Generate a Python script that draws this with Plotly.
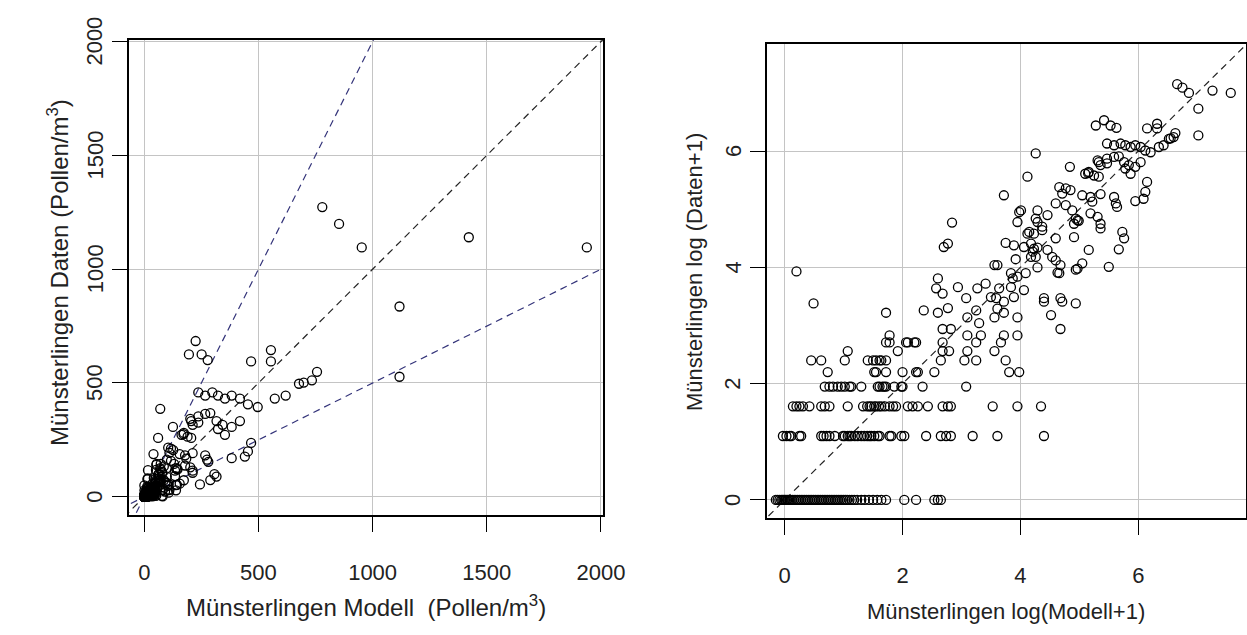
import numpy as np
import plotly.graph_objects as go

# ---- data (log(x+1) scale; the left panel shows the same pairs back-transformed) ----
# observed counts sit on discrete levels; model values for each level
daten_levels = [0.0, 1.10, 1.61, 1.95, 2.20, 2.40, 2.56, 2.71, 2.83, 2.94]

modell_at_level_0 = [-0.15, -0.12, -0.09, -0.06, -0.04, -0.02, 0.00, 0.02, 0.04, 0.06,
                     0.08, 0.10, 0.13, 0.16, 0.19, 0.22, 0.25, 0.28, 0.31, 0.34,
                     0.37, 0.40, 0.43, 0.46, 0.49, 0.52, 0.55, 0.58, 0.61, 0.64,
                     0.67, 0.70, 0.73, 0.76, 0.79, 0.82, 0.85, 0.88, 0.91, 0.94,
                     0.97, 1.00, 1.03, 1.06, 1.10, 1.14, 1.18, 1.23, 1.30, 1.36,
                     1.43, 1.50, 1.57, 1.64, 1.72, 2.03, 2.23, 2.54, 2.60, 2.65]
modell_at_level_1 = [-0.03, 0.03, 0.08, 0.11, 0.25, 0.28, 0.62, 0.66, 0.71, 0.76,
                     0.85, 0.99, 1.02, 1.07, 1.10, 1.13, 1.19, 1.24, 1.30, 1.35,
                     1.40, 1.44, 1.47, 1.52, 1.58, 1.61, 1.78, 1.81, 1.98, 2.03,
                     2.40, 2.65, 2.74, 2.82, 3.19, 3.61, 4.40]
modell_at_level_2 = [0.14, 0.20, 0.25, 0.31, 0.42, 0.62, 0.68, 0.76, 1.07, 1.33,
                     1.40, 1.44, 1.47, 1.52, 1.55, 1.60, 1.64, 1.70, 1.78, 1.84,
                     1.89, 2.09, 2.17, 2.26, 2.43, 2.68, 2.77, 2.82, 3.53, 3.95, 4.35]
modell_at_level_3 = [0.68, 0.76, 0.82, 0.90, 0.96, 1.02, 1.10, 1.13, 1.30, 1.58,
                     1.61, 1.66, 1.69, 1.72, 1.86, 1.98, 2.00, 2.34, 3.08]
modell_at_level_4 = [0.73, 1.52, 1.55, 1.72, 2.00, 2.23, 2.26, 2.54, 3.81, 3.98]
modell_at_level_5 = [0.45, 0.62, 1.02, 1.41, 1.50, 1.55, 1.61, 1.64, 1.72, 2.65,
                     3.05, 3.25, 3.75]
modell_at_level_6 = [1.07, 1.92, 2.68, 2.79, 3.10, 3.56]
modell_at_level_7 = [1.72, 1.78, 2.06, 2.09, 2.20, 2.23, 2.68, 3.25, 3.67]
modell_at_level_8 = [1.78, 3.10, 3.33, 3.72, 3.95]
modell_at_level_9 = [2.68, 2.82, 4.68]

# remaining days with larger counts
log_modell_high = [
    0.20, 0.49, 1.72, 2.36, 2.60, 2.77, 3.10, 3.25, 3.30, 3.56, 3.61, 3.72, 3.95, 4.52,
    4.40, 4.71, 4.94, 3.08, 3.59,
    2.60, 2.57, 2.68, 2.94, 3.27, 3.41, 3.50, 3.64, 3.72, 3.84, 3.89, 4.06, 4.40, 4.68,
    3.84, 3.87, 3.95, 4.09, 3.56, 3.61, 3.92, 4.18, 4.29, 4.63, 4.94, 5.05, 4.68, 4.60,
    4.54, 4.46, 4.29, 4.18, 4.06, 3.89, 3.75, 4.21, 4.23, 4.26, 4.37, 4.37, 4.23, 4.12,
    4.66, 4.97, 4.15, 4.60,
    2.84, 2.70, 2.77, 3.72, 4.12, 4.26, 4.84, 5.10,
    3.95, 3.98, 4.01, 4.29, 4.29, 4.26, 4.46, 4.60, 4.66, 4.77, 4.71, 4.85, 4.77, 4.88,
    4.97, 4.91, 4.94, 4.99, 4.91, 5.16, 5.50, 5.67, 5.76, 5.73,
    5.05, 5.19, 5.36, 5.22, 5.59, 5.62, 5.64, 5.19, 5.31, 5.36, 5.36,
    5.15, 5.25, 5.33, 5.33, 5.36, 5.47, 5.59, 5.31, 5.47, 5.16, 5.67, 5.76, 5.84, 5.78,
    5.87, 5.95, 6.04,
    5.47, 5.59, 5.70, 5.78, 5.87, 5.95, 6.04, 6.12, 6.21,
    5.28, 5.42, 5.53, 5.63, 6.15, 6.32, 6.32,
    6.35, 6.43, 6.52, 6.55, 6.60, 6.63,
    6.66, 6.75, 6.86, 7.26, 7.57, 7.02, 7.02,
    6.15, 6.12, 6.09, 5.95,
]
log_daten_high = [
    3.93, 3.38, 3.22, 3.26, 3.22, 3.30, 3.14, 3.26, 3.04, 3.14, 3.29, 3.22, 3.14, 3.18,
    3.41, 3.41, 3.38, 3.47, 3.47,
    3.81, 3.64, 3.55, 3.66, 3.64, 3.72, 3.49, 3.64, 3.41, 3.66, 3.49, 3.61, 3.47, 3.47,
    3.90, 3.81, 3.84, 3.90, 4.04, 4.04, 4.14, 4.18, 4.00, 3.91, 3.96, 4.07, 4.04, 4.12,
    4.18, 4.30, 4.34, 4.41, 4.35, 4.38, 4.42, 4.27, 4.32, 4.18, 4.70, 4.64, 4.58, 4.58,
    3.90, 3.98, 4.61, 4.50,
    4.77, 4.35, 4.41, 5.24, 5.56, 5.96, 5.73, 5.61,
    4.78, 4.95, 4.98, 4.78, 4.98, 4.84, 4.90, 5.10, 5.38, 5.36, 5.27, 5.33, 5.07, 4.98,
    4.81, 4.75, 4.84, 4.80, 4.52, 4.30, 4.01, 4.31, 4.50, 4.61,
    5.24, 5.21, 5.26, 5.13, 5.21, 5.10, 5.04, 4.93, 4.87, 4.75, 4.67,
    5.62, 5.58, 5.56, 5.81, 5.76, 5.87, 5.90, 5.84, 5.79, 5.64, 5.91, 5.81, 5.76, 5.70,
    5.61, 5.73, 5.81,
    6.13, 6.10, 6.13, 6.10, 6.07, 6.10, 6.07, 6.01, 5.98,
    6.44, 6.53, 6.44, 6.40, 6.39, 6.47, 6.39,
    6.07, 6.10, 6.21, 6.22, 6.24, 6.31,
    7.15, 7.09, 7.00, 7.04, 7.00, 6.73, 6.27,
    5.47, 5.30, 5.18, 5.14,
]

# axis ticks
ticks_pollen = [0, 500, 1000, 1500, 2000]
ticks_log = [0, 2, 4, 6]

# reference lines y = k * x in the left panel
ref_slopes = [1.0, 2.0, 0.5]
ref_colors = ["#222222", "#34347a", "#34347a"]

# ---- assemble ----
level_rows = [modell_at_level_0, modell_at_level_1, modell_at_level_2, modell_at_level_3,
              modell_at_level_4, modell_at_level_5, modell_at_level_6, modell_at_level_7,
              modell_at_level_8, modell_at_level_9]
log_modell = []
log_daten = []
for lvl, row in zip(daten_levels, level_rows):
    log_modell.extend(row)
    log_daten.extend([lvl] * len(row))
log_modell.extend(log_modell_high)
log_daten.extend(log_daten_high)
log_modell = np.array(log_modell)
log_daten = np.array(log_daten)
modell = np.expm1(log_modell)
daten = np.expm1(log_daten)

W, H = 1247, 635
FONT = "Liberation Sans, Arial, sans-serif"
TXT = "#222222"

marker = dict(symbol="circle-open", size=9, color="#000000",
              line=dict(width=1.3, color="#000000"))

fig = go.Figure()

# left panel: reference lines, then points
for k, c in zip(ref_slopes, ref_colors):
    xs = np.array([-200.0, 2200.0])
    fig.add_trace(go.Scatter(x=xs, y=k * xs, mode="lines", xaxis="x", yaxis="y",
                             line=dict(color=c, width=1.2, dash="7px,5px"),
                             hoverinfo="skip", showlegend=False))
fig.add_trace(go.Scatter(x=modell, y=daten, mode="markers", xaxis="x", yaxis="y",
                         marker=marker, showlegend=False))

# right panel: 1:1 line and log-transformed points
xs = np.array([-1.0, 9.0])
fig.add_trace(go.Scatter(x=xs, y=xs, mode="lines", xaxis="x2", yaxis="y2",
                         line=dict(color="#222222", width=1.2, dash="7px,5px"),
                         hoverinfo="skip", showlegend=False))
fig.add_trace(go.Scatter(x=log_modell, y=log_daten, mode="markers", xaxis="x2", yaxis="y2",
                         marker=marker, showlegend=False))

axis_common = dict(
    automargin=False,
    ticks="outside", ticklen=15, tickwidth=1.3, tickcolor="#000000",
    showline=True, linecolor="#000000", linewidth=1.6, mirror=True,
    showgrid=True, gridcolor="#c4c4c4", gridwidth=1, zeroline=False,
    tickfont=dict(family=FONT, size=22, color=TXT),
)

fig.update_layout(
    width=W, height=H,
    margin=dict(l=0, r=0, t=0, b=0, autoexpand=False),
    paper_bgcolor="#ffffff", plot_bgcolor="#ffffff",
    showlegend=False,
    xaxis=dict(domain=[129 / W, 603 / W], range=[-67, 2009], anchor="y",
               tickvals=ticks_pollen, ticklabelstandoff=22, **axis_common),
    yaxis=dict(domain=[1 - 515 / H, 1 - 40 / H], range=[-80, 2007], anchor="x",
               tickvals=ticks_pollen, showticklabels=False, **axis_common),
    xaxis2=dict(domain=[767 / W, 1245.5 / W], range=[-0.3, 7.82], anchor="y2",
                tickvals=ticks_log, ticklabelstandoff=22, **axis_common),
    yaxis2=dict(domain=[1 - 518 / H, 1 - 43.5 / H], range=[-0.31, 7.85], anchor="x2",
                tickvals=ticks_log, showticklabels=False, **axis_common),
)

tick_font = dict(family=FONT, size=22, color=TXT)
# vertical y tick labels (read bottom-to-top), placed on the axis scale
for v in ticks_pollen:
    fig.add_annotation(xref="paper", yref="y", x=95 / W, y=v, text=str(v), textangle=-90,
                       xanchor="center", yanchor="middle", showarrow=False, font=tick_font)
for v in ticks_log:
    fig.add_annotation(xref="paper", yref="y2", x=733 / W, y=v, text=str(v), textangle=-90,
                       xanchor="center", yanchor="middle", showarrow=False, font=tick_font)

left_title_font = dict(family=FONT, size=24, color=TXT)
titles = [
    dict(x=366 / W, y=1 - 606 / H, text="Münsterlingen Modell  (Pollen/m<sup>3</sup>)",
         textangle=0, font=left_title_font),
    dict(x=58 / W, y=1 - 273 / H, text="Münsterlingen Daten (Pollen/m<sup>3</sup>)",
         textangle=-90, font=left_title_font),
    dict(x=1006 / W, y=1 - 611 / H, text="Münsterlingen log(Modell+1)",
         textangle=0, font=tick_font),
    dict(x=694 / W, y=1 - 272 / H, text="Münsterlingen log (Daten+1)",
         textangle=-90, font=tick_font),
]
for t in titles:
    fig.add_annotation(xref="paper", yref="paper", xanchor="center", yanchor="middle",
                       showarrow=False, **t)

fig.write_html("out.html")
